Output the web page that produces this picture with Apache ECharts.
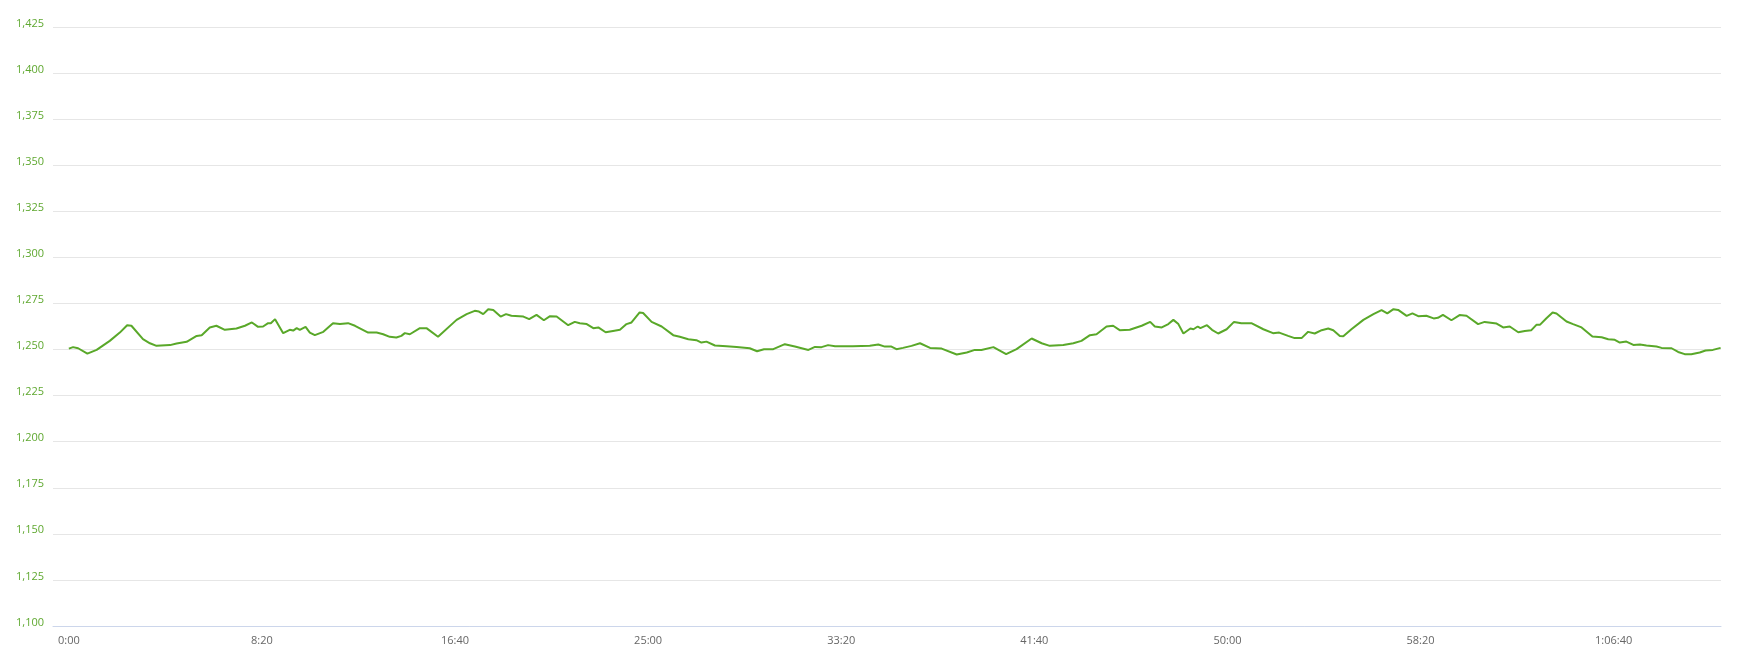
<!DOCTYPE html>
<html>
<head>
<meta charset="utf-8">
<script src="https://cdn.jsdelivr.net/npm/echarts@6/dist/echarts.min.js"></script>
<style>
html,body{margin:0;padding:0;background:#fff;}
#chart{width:1744px;height:668px;}
</style>
</head>
<body>
<div id="chart"></div>
<script>
// elapsed time in seconds
var times = [0,11,24,48,72,106,132,151,162,192,210,227,262,279,305,331,344,365,382,404,434,456,474,490,503,516,523,534,555,572,581,590,598,613,624,637,659,684,702,723,741,775,797,814,831,848,861,870,883,909,926,956,
1004,1030,1051,1062,1073,1086,1099,1118,1132,1146,1177,1192,1211,1230,1246,1263,1293,1310,1323,1341,1358,1371,1390,1409,1427,1444,1457,1478,1487,1509,1535,1565,1582,1604,1625,1638,1651,1673,1703,1729,1763,1782,1800,1824,1854,1880,1915,1932,1949,1966,1984,2030,
2074,2096,2113,2130,2143,2160,2182,2204,2230,2260,2299,2325,2346,2363,2394,2427,2454,2493,2519,2540,2575,2601,2622,2644,2661,2687,2704,2721,2747,2778,2800,2812,2830,2847,2860,2873,2886,2904,2912,2923,2930,2947,2960,2976,2998,3017,3036,3062,3093,3118,3134,
3157,3174,3192,3209,3226,3244,3261,3274,3291,3300,3321,3352,3378,3399,3414,3430,3442,3464,3479,3494,3515,3534,3545,3558,3580,3601,3619,3649,3666,3697,3714,3731,3753,3770,3787,3800,3809,3826,3842,3852,3878,3895,3917,3945,3969,3986,4003,4016,4033,4051,4068,4085,4111,4124,4150,4167,4184,4201,4223,4238,4257,4277];
// power values
var values = [1250.5,1251.3,1250.7,1247.8,1249.8,1254.7,1259.2,1263.2,1262.9,1255.6,1253.4,1252.0,1252.4,1253.3,1254.2,1257.4,1257.8,1262.0,1262.9,1260.7,1261.4,1262.9,1264.7,1262.3,1262.5,1264.3,1264.3,1266.5,1258.9,1260.7,1260.3,1261.6,1260.7,1262.3,1259.2,1257.8,1259.6,1264.3,1263.8,1264.3,1262.9,1259.2,1259.2,1258.3,1256.9,1256.5,1257.4,1258.9,1258.3,1261.6,1261.6,1256.9,
1266.1,1269.2,1271.0,1270.6,1269.2,1271.9,1271.4,1267.9,1269.2,1268.3,1267.9,1266.5,1268.8,1265.9,1268.1,1267.9,1263.2,1265.0,1264.3,1263.8,1261.6,1262.0,1259.4,1260.1,1260.7,1263.8,1264.7,1270.1,1269.8,1265.0,1262.5,1257.8,1256.9,1255.6,1255.1,1253.8,1254.3,1252.2,1251.8,1251.4,1250.7,1249.1,1250.2,1250.2,1252.9,1251.6,1249.8,1251.4,1251.3,1252.4,1251.8,1251.8,
1252.0,1252.7,1251.6,1251.6,1250.2,1250.9,1252.0,1253.4,1250.9,1250.5,1247.3,1248.4,1249.8,1249.8,1251.3,1247.5,1250.2,1256.0,1253.4,1252.0,1252.5,1253.4,1254.7,1257.8,1258.3,1262.5,1262.9,1260.5,1260.7,1262.9,1265.0,1262.5,1262.0,1263.8,1266.1,1263.8,1258.7,1261.4,1261.0,1262.5,1261.6,1263.2,1260.7,1258.7,1261.0,1265.0,1264.3,1264.3,1261.0,1258.9,1259.2,
1257.4,1256.2,1256.2,1259.6,1258.7,1260.5,1261.4,1260.5,1257.4,1257.2,1261.0,1266.1,1269.2,1271.4,1269.6,1271.9,1271.5,1268.3,1269.6,1268.1,1268.3,1266.9,1267.2,1268.8,1265.9,1268.7,1268.3,1263.8,1265.0,1264.1,1262.0,1262.5,1259.4,1260.1,1260.5,1263.4,1263.4,1267.0,1270.1,1269.6,1265.2,1263.8,1262.0,1257.1,1256.7,1255.6,1255.3,1253.8,1254.3,1252.5,1252.7,1252.2,1251.6,1250.9,1250.7,1248.7,1247.5,1247.5,1248.4,1249.5,1249.8,1250.9];
var yTicks = [1100,1125,1150,1175,1200,1225,1250,1275,1300,1325,1350,1375,1400,1425];
var xTicks = [0,500,1000,1500,2000,2500,3000,3500,4000];

function fmtTime(s){
  s = Math.round(s);
  var h = Math.floor(s/3600), m = Math.floor((s%3600)/60), sec = s%60;
  var ss = (sec<10?'0':'')+sec;
  if (h>0) return h+':'+(m<10?'0':'')+m+':'+ss;
  return m+':'+ss;
}
var data = times.map(function(t,i){return [t, values[i]];});
var chart = echarts.init(document.getElementById('chart'), null, {renderer:'canvas'});
chart.setOption({
  animation:false,
  grid:{left:53,right:23,top:27,bottom:42,containLabel:false},
  xAxis:{
    type:'value', min:-41, max:4278,
    splitLine:{show:false},
    axisLine:{show:true,lineStyle:{color:'#ccd6eb',width:1}},
    axisTick:{show:false},
    axisLabel:{customValues:xTicks, formatter:function(v){return fmtTime(v);}, color:'#666666', fontFamily:'Open Sans', fontSize:11, margin:9}
  },
  yAxis:{
    type:'value', min:yTicks[0], max:yTicks[yTicks.length-1], interval:25,
    splitLine:{show:true,lineStyle:{color:'#e6e6e6',width:1}},
    axisLine:{show:false}, axisTick:{show:false},
    axisLabel:{color:'#5fa830', fontFamily:'Open Sans', fontSize:11, margin:9,
      formatter:function(v){return v.toLocaleString('en-US');}, verticalAlign:'bottom', lineHeight:7}
  },
  series:[{
    type:'line', data:data, showSymbol:false, smooth:false,
    lineStyle:{color:'#59a829',width:2}, itemStyle:{color:'#59a829'}
  }]
});
</script>
</body>
</html>
